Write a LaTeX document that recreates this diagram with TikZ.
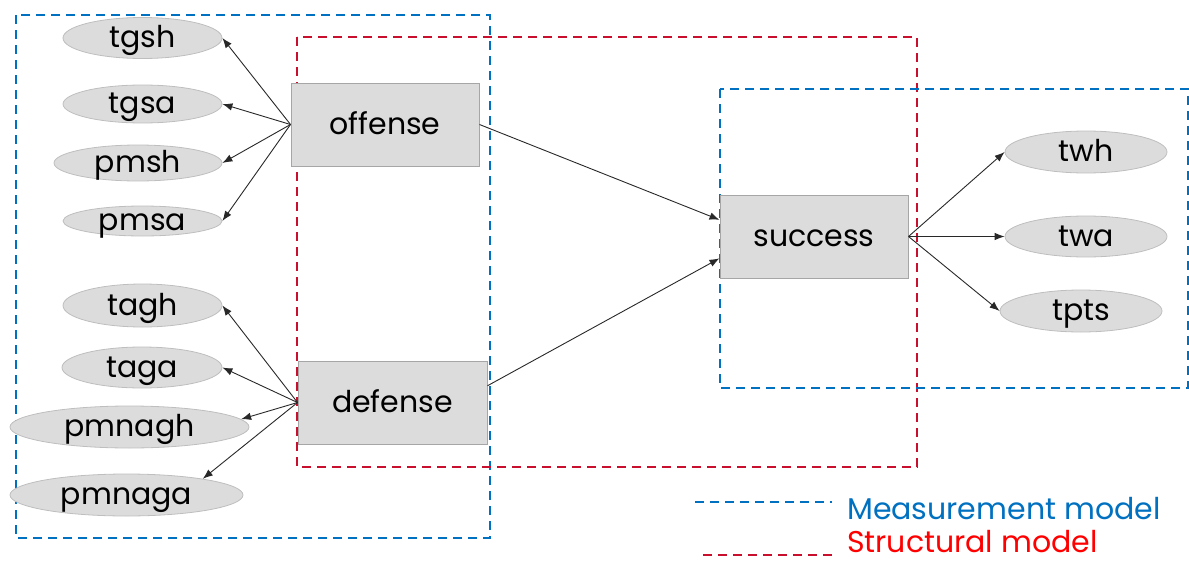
\documentclass[tikz,border=0pt]{standalone}
\usepackage{fontspec}
\setmainfont{Poppins}
\usetikzlibrary{shapes.geometric,arrows.meta}
\definecolor{mblue}{RGB}{0,112,192}
\definecolor{sred}{RGB}{200,16,46}
\definecolor{boxfill}{RGB}{220,220,220}
\definecolor{boxline}{RGB}{166,166,166}
\definecolor{elline}{RGB}{190,190,190}
\definecolor{arr}{RGB}{40,40,40}
\begin{document}
\begin{tikzpicture}[x=1pt,y=-1pt,
  lbl/.style={font=\fontsize{30}{32}\selectfont, text height=19pt, text depth=0pt, inner sep=0pt},
  ell/.style={lbl, ellipse, draw=elline, fill=boxfill, line width=0.8pt},
  latent/.style={lbl, rectangle, draw=boxline, fill=boxfill, line width=1pt, minimum width=#1, minimum height=83pt},
  link/.style={draw=arr, line width=0.9pt, -{Latex[length=10pt,width=7.5pt]}},
  meas/.style={draw=mblue, line width=1.8pt, dash pattern=on 9pt off 6pt},
  struc/.style={draw=sred, line width=1.8pt, dash pattern=on 9pt off 6pt}]
\useasboundingbox (0,0) rectangle (1189,562);
% frames
\draw[meas] (16,15) rectangle (490,538);
\draw[struc] (297,37) rectangle (917,467);
\draw[meas] (720,89) rectangle (1188,388);
% latent boxes
\node[latent=188pt] (off) at (385,124.5) {offense};
\node[latent=189pt] (def) at (392.5,402.5) {defense};
\node[latent=188pt] (suc) at (814,236.5) {success};
% indicators
\node[ell, minimum width=159pt, minimum height=41pt] (tgsh) at (142.5,38) {tgsh};
\node[ell, minimum width=159pt, minimum height=38pt] (tgsa) at (142.5,104) {tgsa};
\node[ell, minimum width=168pt, minimum height=36pt] (pmsh) at (138,163) {pmsh};
\node[ell, minimum width=159pt, minimum height=30pt] (pmsa) at (142.5,221) {pmsa};
\node[ell, minimum width=159pt, minimum height=43pt] (tagh) at (142.5,305.5) {tagh};
\node[ell, minimum width=160pt, minimum height=41pt] (taga) at (142,367.5) {taga};
\node[ell, minimum width=239pt, minimum height=42pt] (pmnagh) at (129.5,427) {pmnagh};
\node[ell, minimum width=233pt, minimum height=42pt] (pmnaga) at (126.5,495) {pmnaga};
\node[ell, minimum width=162pt, minimum height=42pt] (twh) at (1086,152) {twh};
\node[ell, minimum width=162pt, minimum height=41pt] (twa) at (1086,236.5) {twa};
\node[ell, minimum width=162pt, minimum height=42pt] (tpts) at (1081,311) {tpts};
% loadings
\draw[link] (off.west) -- (tgsh.east);
\draw[link] (off.west) -- (tgsa.east);
\draw[link] (off.west) -- (pmsh.east);
\draw[link] (off.west) -- (pmsa.east);
\draw[link] (def.west) -- (tagh.east);
\draw[link] (def.west) -- (taga.east);
\draw[link] (def.west) -- (pmnagh.4);
\draw[link] (def.west) -- (pmnaga.12);
\draw[link] (suc.east) -- (twh.west);
\draw[link] (suc.east) -- (twa.west);
\draw[link] (suc.east) -- (tpts.west);
% structural paths
\draw[link] (off.east) -- (suc.170);
\draw[link] (def.10) -- (suc.193);
% legend
\coordinate (mb1) at (695,502);
\coordinate (mb2) at (832,502);
\coordinate (sr1) at (703,555);
\coordinate (sr2) at (832,555);
\draw[meas, line width=1.6pt] (mb1) -- (mb2);
\draw[struc, line width=1.6pt] (sr1) -- (sr2);
\node[lbl, anchor=base west, text=mblue] (leg1) at (847,519) {Measurement model};
\node[lbl, anchor=base west, text=red] (leg2) at (847,552) {Structural model};
\end{tikzpicture}
\end{document}
